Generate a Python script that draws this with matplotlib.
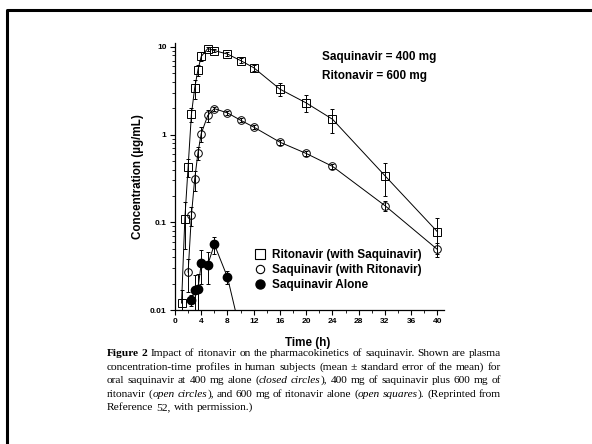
import matplotlib
matplotlib.use("Agg")
import matplotlib.pyplot as plt
from matplotlib.lines import Line2D
from matplotlib.ticker import LogLocator, MultipleLocator, NullFormatter, FixedFormatter, FixedLocator

# ritonavir (with saquinavir) - open squares
t_rit = [1, 1.5, 2, 2.5, 3, 3.5, 4, 5, 6, 8, 10, 12, 16, 20, 24, 32, 40]
c_rit = [0.012, 0.11, 0.43, 1.7, 3.4, 5.5, 7.8, 9.6, 9.1, 8.3, 7.0, 5.8, 3.3, 2.3, 1.5, 0.34, 0.078]
e_rit = [0.005, 0.06, 0.1, 0.3, 0.85, 0.8, 0.9, 0.5, 0.4, 0.4, 0.4, 0.5, 0.55, 0.5, 0.45, 0.14, 0.035]

# saquinavir (with ritonavir) - open circles
t_saq = [2, 2.5, 3, 3.5, 4, 5, 6, 8, 10, 12, 16, 20, 24, 32, 40]
c_saq = [0.027, 0.12, 0.31, 0.62, 1.03, 1.66, 1.98, 1.77, 1.46, 1.22, 0.82, 0.61, 0.435, 0.155, 0.049]
e_saq = [0.011, 0.03, 0.08, 0.1, 0.2, 0.25, 0.1, 0.1, 0.08, 0.07, 0.06, 0.04, 0.03, 0.02, 0.009]

# saquinavir alone - filled circles
t_alone = [2.5, 3, 3.5, 4, 5, 6, 8, 10]
c_alone = [0.013, 0.017, 0.0175, 0.034, 0.033, 0.056, 0.0236, 0.0055]
e_alone = [0.002, 0.008, 0.008, 0.014, 0.013, 0.012, 0.004, 0.0]

legend_labels = ["Ritonavir (with Saquinavir)", "Saquinavir (with Ritonavir)", "Saquinavir Alone"]
dose_text = ["Saquinavir = 400 mg", "Ritonavir = 600 mg"]

caption = [
    "*Figure 2*  Impact of ritonavir on the pharmacokinetics of saquinavir. Shown are plasma",
    "concentration-time profiles in human subjects (mean \u00b1 standard error of the mean) for",
    "oral saquinavir at 400 mg alone (_closed circles_), 400 mg of saquinavir plus 600 mg of",
    "ritonavir (_open circles_), and 600 mg of ritonavir alone (_open squares_). (Reprinted from",
    "Reference 52, with permission.)",
]

W, H = 592, 444
plt.rcParams['font.family'] = ['Liberation Sans', 'DejaVu Sans']
fig = plt.figure(figsize=(W / 100, H / 100), dpi=100)
ax = fig.add_axes([175 / W, 1 - 310 / H, (444 - 175) / W, (310 - 43) / H])

kw = dict(color='k', lw=0.7, elinewidth=0.7, capsize=1.5, capthick=0.7)
ax.errorbar(t_rit, c_rit, yerr=e_rit, marker='s', ms=6, mfc='none', mec='k', mew=0.7, **kw)
ax.errorbar(t_saq, c_saq, yerr=e_saq, marker='o', ms=5.5, mfc='none', mec='k', mew=0.7, **kw)
ax.errorbar(t_alone, c_alone, yerr=e_alone, marker='o', ms=6, mfc='k', mec='k', **kw)

ax.set_yscale('log')
ax.set_xlim(0, 41)
ax.set_ylim(0.01, 11.1)
ax.spines['top'].set_visible(False)
ax.spines['right'].set_visible(False)
for s in ['left', 'bottom']:
    ax.spines[s].set_linewidth(0.9)

ax.yaxis.set_major_locator(FixedLocator([0.01, 0.1, 1, 10]))
ax.yaxis.set_major_formatter(FixedFormatter(["0.01", "0.1", "1", "10"]))
ax.yaxis.set_minor_locator(LogLocator(base=10, subs=range(2, 10)))
ax.yaxis.set_minor_formatter(NullFormatter())
ax.xaxis.set_major_locator(MultipleLocator(4))
ax.xaxis.set_minor_locator(MultipleLocator(2))
ax.tick_params(which='major', length=3.5, width=0.8, labelsize=6, pad=2.5)
ax.tick_params(which='minor', length=2, width=0.6)
for lab in ax.get_xticklabels() + ax.get_yticklabels():
    lab.set_fontweight('bold')

fig.text(308 / W, 1 - 343 / H, "Time (h)", ha='center', va='center', fontsize=8.4, fontweight='bold')
fig.text(138 / W, 1 - 177 / H, "Concentration (\u00b5g/mL)", ha='center', va='center',
         rotation=90, fontsize=8.4, fontweight='bold')

for i, s in enumerate(dose_text):
    fig.text(322 / W, 1 - (57 + 19 * i) / H, s, ha='left', va='center', fontsize=8.5, fontweight='bold')

handles = [
    Line2D([], [], ls='none', marker='s', ms=6.5, mfc='none', mec='k', mew=0.8),
    Line2D([], [], ls='none', marker='o', ms=6, mfc='none', mec='k', mew=0.8),
    Line2D([], [], ls='none', marker='o', ms=6.5, mfc='k', mec='k'),
]
leg = fig.legend(handles, legend_labels, loc='upper left', bbox_to_anchor=(254 / W, 1 - 249 / H),
                 frameon=False, borderpad=0, borderaxespad=0, handlelength=1.0,
                 handletextpad=0.5, labelspacing=0.25, prop=dict(size=8.5, weight='bold'))

# frame around the figure (left and top edges)
fig.add_artist(Line2D([7 / W, 7 / W, 1.0], [0, 1 - 10 / H, 1 - 10 / H],
                      transform=fig.transFigure, color='k', lw=2.2))

# justified caption
renderer = fig.canvas.get_renderer()
cap_fs = 8.2
x_left, x_right = 107, 501


def parse(line):
    words = []
    bold = ital = False
    for word in line.split():
        pieces = []
        buf = ""
        for ch in word:
            if ch in "*_":
                if buf:
                    pieces.append((buf, bold, ital))
                buf = ""
                if ch == "*":
                    bold = not bold
                else:
                    ital = not ital
            else:
                buf += ch
        if buf:
            pieces.append((buf, bold, ital))
        words.append(pieces)
    return words


def piece_props(b, it):
    return dict(fontsize=cap_fs, family='Liberation Serif',
                fontweight='bold' if b else 'normal', fontstyle='italic' if it else 'normal')


def width(s, b, it):
    t = fig.text(0, 0, s, **piece_props(b, it))
    w = t.get_window_extent(renderer).width
    t.remove()
    return w


space_w = width("a b", False, False) - width("ab", False, False)
baseline = [356, 370, 383, 397, 410]
for n, line in enumerate(caption):
    words = parse(line)
    ws = [[width(s, b, it) for s, b, it in w] for w in words]
    total = sum(sum(w) for w in ws)
    if n < len(caption) - 1:
        gap = (x_right - x_left - total) / (len(words) - 1)
    else:
        gap = space_w
    x = x_left
    for w, wl in zip(words, ws):
        for (s, b, it), pw in zip(w, wl):
            fig.text(x / W, 1 - baseline[n] / H, s, ha='left', va='baseline', **piece_props(b, it))
            x += pw
        x += gap

fig.savefig("out.png", dpi=100)
